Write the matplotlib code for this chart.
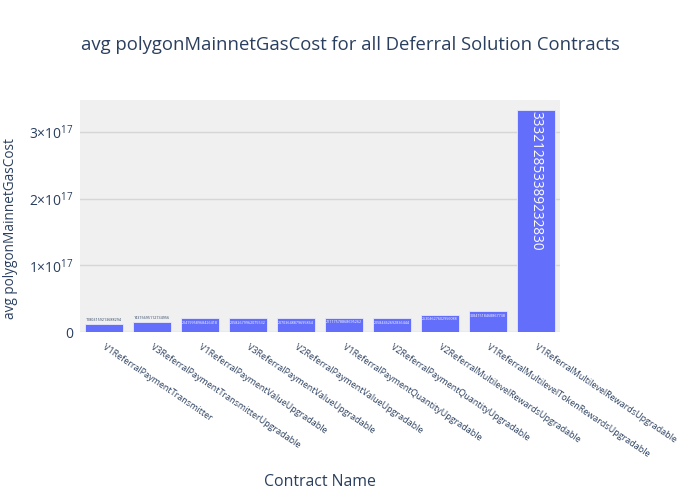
import numpy as np
import matplotlib.pyplot as plt
from matplotlib.ticker import FuncFormatter

plt.rcParams['font.family'] = ['Open Sans', 'DejaVu Sans']
plt.rcParams['mathtext.default'] = 'regular'

# données
contracts = [
    'V1ReferralPaymentTransmitter',
    'V3ReferralPaymentTransmitterUpgradable',
    'V1ReferralPaymentValueUpgradable',
    'V3ReferralPaymentValueUpgradable',
    'V2ReferralPaymentValueUpgradable',
    'V1ReferralPaymentQuantityUpgradable',
    'V2ReferralPaymentQuantityUpgradable',
    'V2ReferralMultilevelRewardsUpgradable',
    'V1ReferralMultilevelTokenRewardsUpgradable',
    'V1ReferralMultilevelRewardsUpgradable',
]
gas_cost = [
    11803159213688294,
    14375695112734956,
    20419958968426418,
    20582679962075532,
    20703648879695864,
    21117578868695262,
    20584462692836444,
    25304627602956088,
    30841518468867738,
    333212853389232830,
]

txt = '#2a3f5f'
bar_c = '#636efa'

fig = plt.figure(figsize=(7, 5), dpi=100)
ax = fig.add_axes([80/700, 1-332/500, 480/700, 232/500])
ax.set_facecolor('#f0f0f0')

x = np.arange(len(contracts))
ax.bar(x, gas_cost, width=0.8, color=bar_c, edgecolor='#e8e8f8', linewidth=0.6, zorder=3)

ymax = 3.48e17
ax.set_ylim(0, ymax)
ax.set_xlim(-0.5, len(contracts) - 0.5)

# étiquettes des barres
for xi, v in zip(x, gas_cost):
    if v > 0.5*ymax:
        ax.text(xi, v - 0.004*ymax, str(v), rotation=-90, ha='center', va='top',
                color='white', fontsize=9.8, zorder=4)
    elif v < 0.05*ymax:
        ax.text(xi, v + 0.01*ymax, str(v), ha='center', va='bottom',
                color=txt, fontsize=2.6, zorder=4)
    else:
        ax.text(xi, v - 0.01*ymax, str(v), ha='center', va='top',
                color='white', fontsize=2.6, zorder=4)

ax.set_yticks([0, 1e17, 2e17, 3e17])
def fmt(v, pos):
    if v == 0:
        return '0'
    return r'%d×10$^{17}$' % round(v/1e17)
ax.yaxis.set_major_formatter(FuncFormatter(fmt))
ax.grid(axis='y', color='#d6d6d6', linewidth=1, zorder=0)
ax.tick_params(axis='y', length=0, labelsize=10, colors=txt, pad=5)
ax.tick_params(axis='x', length=0, labelsize=6.5, colors=txt, pad=10)
ax.set_xticks(x)
ax.set_xticklabels(contracts, rotation=-34, ha='left', va='center', rotation_mode='anchor')
for s in ax.spines.values():
    s.set_visible(False)

fig.text(0.5, 1-45/500, 'avg polygonMainnetGasCost for all Deferral Solution Contracts',
         ha='center', va='center', fontsize=13.3, color=txt)
fig.text(320/700, 1-482/500, 'Contract Name', ha='center', va='center', fontsize=11.4, color=txt)
fig.text(11/700, 1-229/500, 'avg polygonMainnetGasCost', ha='center', va='center',
         rotation=90, fontsize=9.8, color=txt)

plt.savefig('out.png', dpi=100)
